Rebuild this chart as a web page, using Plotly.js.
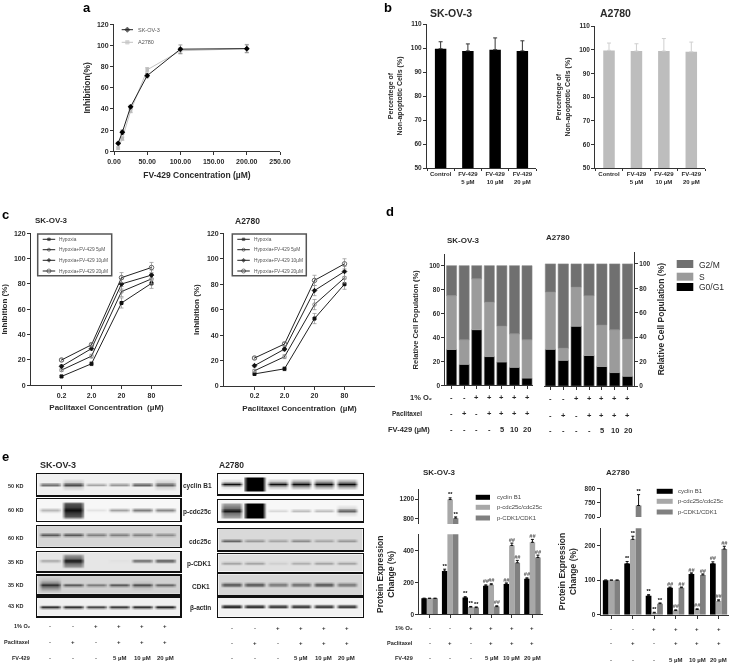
<!DOCTYPE html>
<html><head><meta charset="utf-8">
<script src="https://cdn.plot.ly/plotly-3.0.1.min.js"></script>
<style>html,body{margin:0;padding:0;background:#fff}#p{width:732px;height:664px;filter:blur(0.3px)}</style>
</head><body><div id="p"></div>
<script>
// ---- panel a
const aConc=[6.25,12.5,25,50,100,200];
const aSK=[7.5,18,42,71.5,96.5,97];
const aSKerr=[1,2,1.5,2,4,3.5];
const aA27=[3,12,38,77,95,97];
const aA27err=[1,1.5,1.5,2,3,4];
// ---- panel b
const bLabels=['Control','FV-429<br>5 µM','FV-429<br>10 µM','FV-429<br>20 µM'];
const bSK=[99.7,98.8,99.3,98.8];
const bSKerr=[2.9,2.9,4.9,4.2];
const bA27=[99.7,99.4,99.4,99.1];
const bA27err=[3.1,3.1,5.3,4.1];
// ---- panel c
const cLabels=['0.2','2.0','20','80'];
const cNames=['Hypoxia','Hypoxia+FV-429 5µM','Hypoxia+FV-429 10µM','Hypoxia+FV-429 20µM'];
const cSK0=[7,17,65,80.5],cSK5=[12,23,74,84],cSK10=[15,29,80,87],cSK20=[20,32,85,93];
const cA0=[9.5,13.5,53,80],cA5=[12,23,64,85],cA10=[16,29,75,90],cA20=[22,33,83,96];
const cSKerr=[1,1.5,4,4],cAerr=[1,1.5,4,4];
// ---- panel d
const dO2=['-','-','+','+','+','+','+'];
const dPac=['-','+','-','+','+','+','+'];
const dFV=['-','-','-','-','5','10','20'];
const dSKg0=[30,17.5,46.5,24,19.5,15,6];
const dSKs=[45,20.5,42.5,45.5,30,28,32];
const dSKg2=[25,62,11,30.5,50.5,57,62];
const dAg0=[30,21,49,25,16,11,8];
const dAs=[47,10,32,49,34,35,30.5];
const dAg2=[23,69,19,26,50,54,61.5];
// ---- panel e blots: band darkness and thickness by lane
const blotNames=['cyclin B1','p-cdc25c','cdc25c','p-CDK1','CDK1','β-actin'];
const blotKD=['50 KD','60 KD','60 KD','35 KD','35 KD','43 KD'];
const skI=[[.55,.7,.35,.4,.6,.6],[.3,.95,.12,.4,.55,.5],[.65,.65,.5,.5,.5,.45],[.35,.9,.1,.12,.6,.65],[.85,.7,.55,.7,.75,.65],[.9,.9,.8,.85,.9,.95]];
const skT=[[.5,.6,.3,.4,.5,.6],[.4,.9,.2,.3,.4,.4],[.4,.4,.4,.4,.4,.4],[.3,.8,.1,.1,.4,.5],[.7,.5,.5,.5,.55,.5],[.5,.5,.5,.5,.5,.5]];
const skBg=[.06,.03,.16,.1,.18,.06];
const aI=[[.95,1,.95,.97,.97,.97],[.9,1,.15,.25,.25,.6],[.6,.4,.35,.45,.35,.4],[.4,.4,.2,.35,.4,.4],[.7,.7,.55,.6,.7,.55],[.95,.9,.85,.85,.85,.85]];
const aT=[[.55,1,.6,.65,.65,.65],[.8,1,.3,.4,.4,.6],[.35,.35,.35,.35,.35,.35],[.4,.4,.4,.4,.4,.4],[.5,.5,.5,.5,.5,.5],[.45,.45,.45,.45,.45,.45]];
const aBg=[.02,.03,.15,.12,.16,.05];
const eO2=['-','-','+','+','+','+'];
const ePac=['-','+','-','+','+','+'];
const eFV=['-','-','-','5 µM','10 µM','20 µM'];
// ---- panel e bars
const eSeries=['cyclin B1','p-cdc25c/cdc25c','p-CDK1/CDK1'];
const eSKv=[[100,270,105,178,190,222],[100,1190,45,185,430,450],[100,810,42,48,322,355]];
const eSKe=[[0,12,5,6,6,6],[0,35,4,6,15,18],[0,25,4,5,15,15]];
const eAv=[[100,148,55,78,118,148],[100,218,5,12,15,40],[100,740,32,78,115,190]];
const eAe=[[0,6,3,2,3,5],[0,9,2,2,2,3],[0,38,2,2,3,8]];
const eMarks=[['','**','**','##','##','##'],['','**','**','##','##','##'],['','**','**','##','##','##']];

const W=732,H=664,F='"Liberation Sans",Arial,sans-serif';
const layout={width:W,height:H,margin:{l:0,r:0,t:0,b:0},paper_bgcolor:'#fff',plot_bgcolor:'rgba(0,0,0,0)',showlegend:false,
  barmode:'group',bargap:0.2,bargroupgap:0,annotations:[],shapes:[],font:{family:F}};
const data=[];
const INK='#2a2a2a';
function AX(extra,size){return Object.assign({showgrid:false,zeroline:false,showline:true,linecolor:'#333',linewidth:1,
  ticks:'outside',ticklen:3,tickwidth:1,tickcolor:'#333',tickfont:{size:size||7,family:F,weight:700,color:INK}},extra);}
function axes(id,x0,x1,y0,y1,xo,yo){
  layout['xaxis'+id]=Object.assign({domain:[x0/W,x1/W],anchor:'y'+id},xo);
  layout['yaxis'+id]=Object.assign({domain:[1-y1/H,1-y0/H],anchor:'x'+id},yo);
}
function txt(t,x,y,size,o){o=o||{};layout.annotations.push({text:t,xref:o.xref||'paper',yref:'paper',x:o.xref?x:x/W,y:1-y/H,
  xanchor:o.anchor||'center',yanchor:'middle',showarrow:false,textangle:o.angle||0,
  font:{size:size,family:F,weight:o.weight===undefined?700:o.weight,color:o.color||INK}});}
function rect(x0,x1,y0,y1,fill,line){layout.shapes.push({type:'rect',xref:'paper',yref:'paper',x0:x0/W,x1:x1/W,y0:1-y1/H,y1:1-y0/H,
  fillcolor:fill,line:line?{color:line,width:1.5}:{width:0}});}
function table(xref,rows,size){rows.forEach(r=>r.vals.forEach((v,i)=>txt(v,i,r.y,size,{xref})));}
function axTitle(t,size,standoff){return {text:t,font:{size:size,family:F,weight:700,color:INK},standoff};}

// overlay in page pixels for legend keys
layout.xaxis99={domain:[0,1],range:[0,W],visible:false,anchor:'y99'};
layout.yaxis99={domain:[0,1],range:[H,0],visible:false,anchor:'x99'};
function lineKey(x0,x1,y,color,symbol,size,msize){
  data.push({type:'scatter',mode:'lines+markers',xaxis:'x99',yaxis:'y99',x:[x0,(x0+x1)/2,x1],y:[y,y,y],hoverinfo:'skip',
    line:{color,width:1},marker:{symbol,size:[0,msize||size,0],color,line:{color,width:0.8}}});
}

// ---------- a
axes('1',114,280,24.3,151.3,AX({range:[0,250],tickvals:[0,50,100,150,200,250],tickformat:'.2f',title:axTitle('FV-429 Concentration (µM)',8.5,8)}),
  AX({range:[0,120],tickvals:[0,20,40,60,80,100,120],title:axTitle('Inhibition(%)',8.5,4)}));
data.push({type:'scatter',mode:'lines+markers',x:aConc,y:aA27,xaxis:'x1',yaxis:'y1',line:{color:'#c4c4c4',width:1},marker:{symbol:'square',size:3.5,color:'#bdbdbd'},error_y:{type:'data',array:aA27err,color:'#aaa',thickness:0.8,width:2},hoverinfo:'skip'});
data.push({type:'scatter',mode:'lines+markers',x:aConc,y:aSK,xaxis:'x1',yaxis:'y1',line:{color:'#222',width:1},marker:{symbol:'diamond',size:4.5,color:'#000'},error_y:{type:'data',array:aSKerr,color:'#888',thickness:0.8,width:2},hoverinfo:'skip'});
lineKey(121.7,133,29.7,'#222','diamond',4);lineKey(121.7,133,42.3,'#c4c4c4','square',3.5);
txt('SK-OV-3',136,29.7,5.5,{anchor:'left',weight:400,color:'#555'});txt('A2780',136,42.3,5.5,{anchor:'left',weight:400,color:'#555'});

// ---------- b
const bTitle='Percentege of<br>Non-apoptotic Cells (%)';
function panelB(id,x0,x1,y0,y1,vals,errs,color,ecolor){
  axes(id,x0,x1,y0,y1,AX({type:'category',tickson:'boundaries',tickangle:0,ticklen:2,tickfont:{size:6,family:F,weight:700,color:INK}}),
    AX({range:[50,110],tickvals:[50,60,70,80,90,100,110],tickfont:{size:6.5,family:F,weight:700,color:INK},title:axTitle(bTitle,7,7)}));
  data.push({type:'bar',x:bLabels,y:vals,xaxis:'x'+id,yaxis:'y'+id,width:0.42,marker:{color,line:{width:0}},
    error_y:{type:'data',array:errs,symmetric:false,arrayminus:[0,0,0,0],color:ecolor,thickness:1,width:2},hoverinfo:'skip'});
}
panelB('2',427,536,24,168,bSK,bSKerr,'#000','#333');
panelB('3',595.3,705,26,168,bA27,bA27err,'#bdbdbd','#cfcfcf');
txt('SK-OV-3',451,12.7,10.5);txt('A2780',615,13,10.5);

// ---------- c
const cMarks=[['square',3,'#111'],['circle-open',3.5,'#888'],['diamond',3.5,'#111'],['circle-open',4.5,'#666']];
function panelC(id,x0,x1,vals,errs,yb,legX){
  const un=(x1-x0)/30;
  axes(id,x0,x1,233.3,yb,AX({range:[-(un-3)/2,3+(un-3)/2],tickvals:[0,1,2,3],ticktext:cLabels,title:axTitle('Paclitaxel Concentration  (µM)',8,6)}),
    AX({range:[0,120],tickvals:[0,20,40,60,80,100,120],title:axTitle('Inhibition (%)',8,6)}));
  vals.forEach((v,i)=>data.push({type:'scatter',mode:'lines+markers',x:[0,1,2,3],y:v,xaxis:'x'+id,yaxis:'y'+id,
    line:{color:'#222',width:1},marker:{symbol:cMarks[i][0],size:cMarks[i][1],color:cMarks[i][2],line:{color:cMarks[i][2],width:1}},
    error_y:{type:'data',array:errs,color:'#999',thickness:0.8,width:2},hoverinfo:'skip'}));
  rect(legX,legX+74,234,275.7,'rgba(255,255,255,0)','#555');
  [239.3,249.7,260.3,271].forEach((y,i)=>{lineKey(legX+5,legX+17.5,y,'#222',cMarks[i][0],cMarks[i][1]-0.5);
    txt(cNames[i],legX+19.5,y,4.8,{anchor:'left',weight:400,color:'#555'});});
}
panelC('4',31,182,[cSK0,cSK5,cSK10,cSK20],cSKerr,385.3,37.7);
panelC('5',224,375,[cA0,cA5,cA10,cA20],cAerr,386,232.3);
txt('SK-OV-3',51.7,220.7,8);txt('A2780',247.7,221,8.5);

// ---------- d
const dIdx=[0,1,2,3,4,5,6];
const G2='#707070',GS='#9b9b9b',G0='#000';
function sum(a,b){return a.map((v,i)=>v+b[i]);}
function panelD(id,x0,x1,y0,y1,g0,s,g2,yo){
  axes(id,x0,x1,y0,y1,AX({range:[-0.5,6.5],tickvals:dIdx,showticklabels:false}),AX(yo));
  const xa='x'+id,ya='y'+id;
  const common={type:'bar',x:dIdx,xaxis:xa,yaxis:ya,offsetgroup:'d',hoverinfo:'skip'};
  data.push(Object.assign({},common,{y:g0,base:dIdx.map(()=>0),marker:{color:G0,line:{color:'#777',width:0.6}}}));
  data.push(Object.assign({},common,{y:s,base:g0,marker:{color:GS,line:{color:'#aaa',width:0.6}}}));
  data.push(Object.assign({},common,{y:g2,base:sum(g0,s),marker:{color:G2,line:{color:'#888',width:0.6}}}));
}
const dTicks=[0,20,40,60,80,100];
panelD('6',445.3,533.3,254.3,385.3,dSKg0,dSKs,dSKg2,{range:[0,109.5],tickvals:dTicks,tickfont:{size:6.5,family:F,weight:700,color:INK},
  title:axTitle('Relative Cell Population (%)',7.5,9)});
panelD('7',544,634,252.3,386,dAg0,dAs,dAg2,{range:[0,109.5],tickvals:dTicks,side:'right',tickfont:{size:6.5,family:F,weight:700,color:INK},
  title:axTitle('Relative Cell Population (%)',8.5,8)});
table('x6',[{y:397.7,vals:dO2},{y:413.3,vals:dPac},{y:429,vals:dFV}],7.5);
table('x7',[{y:398.3,vals:dO2},{y:415,vals:dPac},{y:430.7,vals:dFV}],7.5);
txt('1% O₂',420.5,397.7,7.5);txt('Paclitaxel',406.5,413.3,6.5);txt('FV-429 (µM)',408.5,429,7.5);
txt('SK-OV-3',463,240.7,8);txt('A2780',558,237,8);
[['G2/M',G2,264],['S',GS,276.7],['G0/G1',G0,287]].forEach(k=>{rect(676.7,693.3,k[2]-4,k[2]+4,k[1]);
  txt(k[0],697,k[2]+0.5,8.5,{anchor:'left',weight:400});});

// ---------- e blots
const skRows=[[474,495,.5],[499.3,520.7,.5],[526,546.7,.42],[552.3,571,.45],[575.7,594,.5],[597.7,616,.5]];
const aRows=[[474,494,.5],[500,521,.5],[529,550,.55],[554.3,571.7,.5],[574.3,595,.5],[597.7,616.7,.45]];
function blot(id,x0,x1,y0,y1,cy,I,Tk,bg,rng){
  axes(id,x0,x1,y0,y1,{range:rng,showticklabels:false,ticks:'',showgrid:false,zeroline:false,showline:true,mirror:true,linecolor:'#111',linewidth:1.5},
    {range:[1,0],showticklabels:false,ticks:'',showgrid:false,zeroline:false,showline:true,mirror:true,linecolor:'#111',linewidth:1.5});
  const xs=[-1];
  I.forEach((_,i)=>xs.push(i-0.5,i-0.43,i-0.32,i+0.32,i+0.43));
  xs.push(5.5,7);
  const ys=[-.2,cy-.42,cy-.3,cy-.14,cy-.06,cy,cy+.06,cy+.14,cy+.3,cy+.42,1.2];
  const lateral=[0,.5,1,1,.5];
  const z=ys.map((_,r)=>{
    const row=[bg];
    I.forEach((v,i)=>{
      const t=Tk[i];
      const far=Math.max(0,3*t-2),mid=Math.max(0,2*t-1);
      const vf=[0,0,far,mid,t,1,t,mid,far,0,0][r];
      lateral.forEach(l=>row.push(bg+(v-bg)*vf*l));
    });
    row.push(bg,bg);return row;
  });
  data.push({type:'heatmap',x:xs,y:ys,z,xaxis:'x'+id,yaxis:'y'+id,zmin:0,zmax:1,zsmooth:'best',showscale:false,hoverinfo:'skip',
    colorscale:[[0,'#ffffff'],[1,'#000000']]});
}
skRows.forEach((r,i)=>blot(String(10+i),37.3,180,r[0],r[1],r[2],skI[i],skT[i],skBg[i],[-0.55,5.65]));
aRows.forEach((r,i)=>blot(String(20+i),218.3,362.7,r[0],r[1],r[2],aI[i],aT[i],aBg[i],[-0.58,5.69]));
const kdY=[485.7,510,537.7,562.3,585,606],nameY=[485.7,511.7,541,564.3,586,608.3],nameX=[197,197.7,200,199,201,200];
blotKD.forEach((t,i)=>txt(t,16,kdY[i],5.5));
blotNames.forEach((t,i)=>txt(t,nameX[i],nameY[i],6.5));
txt('SK-OV-3',57.7,465,9);txt('A2780',231.7,465,8.5);
table('x10',[{y:626,vals:eO2},{y:641.7,vals:ePac},{y:658.3,vals:eFV}],6);
table('x20',[{y:628,vals:eO2},{y:643,vals:ePac},{y:658.3,vals:eFV}],6);
txt('1% O₂',33,626,5.5,{anchor:'right'});txt('Paclitaxel',32,641.7,5.5,{anchor:'right'});txt('FV-429',32,658.3,5.5,{anchor:'right'});

// ---------- e bars
const eColors=['#000000','#a8a8a8','#808080'];
const eIdx=[0,1,2,3,4,5];
function eBars(id,vals,errs,rng){
  vals.forEach((v,j)=>{
    data.push({type:'bar',x:eIdx,y:v,xaxis:'x'+id,yaxis:'y'+id,name:eSeries[j],marker:{color:eColors[j],line:{width:0}},
      error_y:{type:'data',array:errs[j],symmetric:false,arrayminus:eIdx.map(()=>0),color:'#111',thickness:1,width:1.5},hoverinfo:'skip'});
    const xs=[],ys=[],ts=[],cs=[],st=[];
    v.forEach((val,i)=>{const top=val+errs[j][i];
      if(eMarks[j][i]&&top>=rng[0]&&top<=rng[1]){xs.push(i+(j-1)*0.2667);ys.push(top);ts.push(eMarks[j][i]);
        cs.push(eMarks[j][i]=='**'?'#000':'#555');st.push(eMarks[j][i]=='**'?'normal':'italic');}});
    if(xs.length) data.push({type:'scatter',mode:'text',x:xs,y:ys,text:ts,textposition:'top center',xaxis:'x'+id,yaxis:'y'+id,cliponaxis:false,
      textfont:{size:5.5,family:F,weight:700,color:cs,style:st},hoverinfo:'skip'});
  });
}
const eTick={size:6.5,family:F,weight:700,color:INK};
const eYT='Protein Expression<br>Change (%)';
axes('30',419.3,542.7,534.3,614.3,AX({range:[-0.5,5.5],tickvals:eIdx,showticklabels:false}),
  AX({range:[0,500],tickvals:[0,200,400],tickfont:eTick,title:axTitle(eYT,8.5,7)}));
axes('31',419.3,542.7,489.3,524,{range:[-0.5,5.5],visible:false},AX({range:[690,1400],tickvals:[800,1200],tickfont:eTick}));
eBars('30',eSKv,eSKe,[0,500]);eBars('31',eSKv,eSKe,[690,1400]);
axes('32',600.7,729.3,528.3,614.7,AX({range:[-0.5,5.5],tickvals:eIdx,showticklabels:false}),
  AX({range:[0,250],tickvals:[0,100,200],tickfont:eTick,title:axTitle(eYT,8.5,6)}));
axes('33',600.7,729.3,488.3,517,{range:[-0.5,5.5],visible:false},AX({range:[700,800],tickvals:[700,750,800],tickfont:eTick}));
eBars('32',eAv,eAe,[0,250]);eBars('33',eAv,eAe,[700,800]);
function eLegend(x0,x1,tx,ys){eSeries.forEach((s,i)=>{rect(x0,x1,ys[i]-2.5,ys[i]+2.5,eColors[i]);txt(s,tx,ys[i],6,{anchor:'left',weight:400,color:'#444'});});}
eLegend(475.7,490,495,[497.3,507.3,518]);eLegend(656.7,672.7,676,[491.3,501.3,512]);
txt('SK-OV-3',439,472,8);txt('A2780',618,472.7,8);
table('x30',[{y:627.7,vals:eO2},{y:642.7,vals:ePac},{y:658.3,vals:eFV}],6);
table('x32',[{y:629,vals:eO2},{y:643,vals:ePac},{y:660,vals:eFV}],6);
txt('1% O₂',415,627.7,6,{anchor:'right'});txt('Paclitaxel',415,642.7,5.5,{anchor:'right'});txt('FV-429',415,658.3,5.5,{anchor:'right'});

// panel letters
[['a',87,7.7],['b',388,7],['c',5.7,214],['d',390,212],['e',5,456.7]].forEach(l=>txt(l[0],l[1],l[2],13,{color:'#000'}));

Plotly.newPlot('p',data,layout,{displayModeBar:false,staticPlot:true});
</script></body></html>
